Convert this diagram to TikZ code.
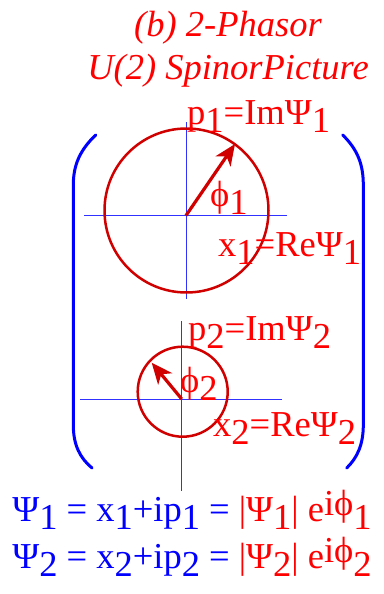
\documentclass[tikz,border=0pt]{standalone}
\usepackage{fontspec}
\setmainfont{Liberation Serif}
\usetikzlibrary{arrows.meta}
\definecolor{PhasorRed}{HTML}{FF0000}
\definecolor{CircleRed}{HTML}{D00000}
\definecolor{AxisBlue}{HTML}{3030FF}
\definecolor{BracketBlue}{HTML}{0000FF}
\newcommand{\lo}[1]{\raisebox{-0.24em}{#1}}

\begin{document}
\begin{tikzpicture}[x=1pt,y=-1pt,
  every node/.style={font=\fontsize{36.5}{40}\selectfont,inner sep=0pt},
  lbl/.style={text=PhasorRed,anchor=base west},
  axis/.style={AxisBlue,line width=1pt},
  phasor/.style={CircleRed,line width=3.2pt,-{Stealth[length=21pt,width=18pt,inset=6pt]}}]
  \useasboundingbox (0,0) rectangle (383,594);
  % title
  \node[text=PhasorRed,anchor=base,font=\fontsize{36.5}{40}\selectfont\itshape] (t1) at (228,37) {(b) 2-Phasor};
  \node[text=PhasorRed,anchor=base,font=\fontsize{36.5}{40}\selectfont\itshape] (t2) at (228,80) {U(2) SpinorPicture};
  % phasor 1
  \coordinate (o1) at (186,215.5);
  \coordinate (h1a) at (84,215.5);  \coordinate (h1b) at (287,215.5);
  \coordinate (v1a) at (186,122);   \coordinate (v1b) at (186,299);
  \draw[axis] (h1a) -- (h1b);
  \draw[axis] (v1a) -- (v1b);
  \draw[CircleRed,line width=2.5pt] (186.5,210.5) circle[radius=82];
  \coordinate (tip1) at (235,144);
  \draw[phasor] (o1) -- (tip1);
  \node[lbl] (p1) at (187,124) {p\lo{1}=ImΨ\lo{1}};
  \node[lbl] (phi1) at (210,206) {ϕ\lo{1}};
  \node[lbl] (x1) at (218,256) {x\lo{1}=ReΨ\lo{1}};
  % phasor 2
  \coordinate (o2) at (181.7,399);
  \coordinate (h2a) at (80,399);    \coordinate (h2b) at (282,399);
  \coordinate (v2a) at (181.7,321); \coordinate (v2b) at (181.7,491);
  \draw[axis] (h2a) -- (h2b);
  \draw[axis] (v2a) -- (v2b);
  \draw[CircleRed,line width=2.5pt] (182.7,391.7) circle[radius=45];
  \coordinate (tip2) at (151.7,362.7);
  \draw[phasor] (o2) -- (tip2);
  \node[lbl] (p2) at (188,340) {p\lo{2}=ImΨ\lo{2}};
  \node[lbl] (phi2) at (180,392) {ϕ\lo{2}};
  \node[lbl] (x2) at (213,436) {x\lo{2}=ReΨ\lo{2}};
  % spinor brackets
  \draw[BracketBlue,line width=3pt,line cap=round] (95.7,135) .. controls (80,150) and (73.3,165) .. (73.3,185)
    -- (73.3,425) .. controls (73.3,445) and (80,458) .. (92,468);
  \draw[BracketBlue,line width=3pt,line cap=round] (342.7,135) .. controls (358,150) and (363.3,165) .. (363.3,185)
    -- (363.3,425) .. controls (363.3,445) and (357,458) .. (346.7,468);
  % spinor components
  \node[anchor=base,text=BracketBlue] (eq1) at (192,521)
    {Ψ\lo{1} = x\lo{1}+ip\lo{1} = \textcolor{PhasorRed}{|Ψ\lo{1}| e\raisebox{0.15em}{iϕ\raisebox{-0.39em}{1}}}};
  \node[anchor=base,text=BracketBlue] (eq2) at (192,568)
    {Ψ\lo{2} = x\lo{2}+ip\lo{2} = \textcolor{PhasorRed}{|Ψ\lo{2}| e\raisebox{0.15em}{iϕ\raisebox{-0.39em}{2}}}};
\end{tikzpicture}
\end{document}
